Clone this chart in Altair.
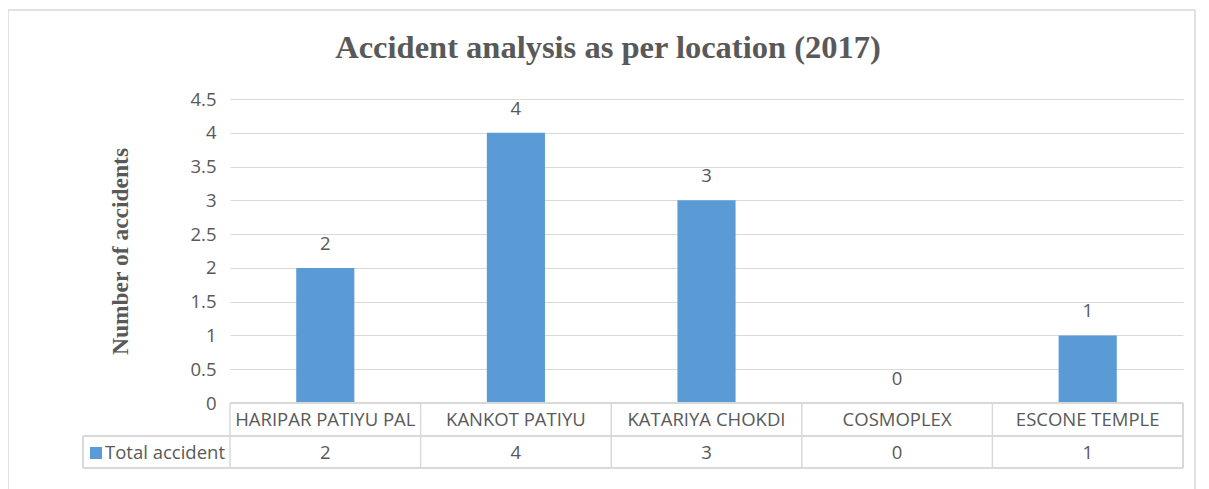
import altair as alt
import pandas as pd

locations = ["HARIPAR PATIYU PAL", "KANKOT PATIYU", "KATARIYA CHOKDI", "COSMOPLEX", "ESCONE TEMPLE"]
accidents = [2, 4, 3, 0, 1]
y_ticks = [0, 0.5, 1, 1.5, 2, 2.5, 3, 3.5, 4, 4.5]
series_name = "Total accident"
chart_title = "Accident analysis as per location (2017)"

df = pd.DataFrame({"loc": locations, "value": accidents})

W, H = 953, 304
GREY = "#595959"
LINE = "#D9D9D9"
BLUE = "#5B9BD5"
SANS = "Open Sans"
SERIF = "Liberation Serif"
FS = 18.5

x_scale = alt.Scale(paddingInner=0, paddingOuter=0)
x_axis = alt.Axis(title=None, labelAngle=0, domain=False, ticks=False, tickSize=0,
                  labelPadding=7, labelFont=SANS, labelFontSize=FS, labelColor=GREY,
                  labelBaseline="top", labelLimit=400, grid=False)
y_scale = alt.Scale(domain=[0, 4.5], nice=False)
y_axis = alt.Axis(values=y_ticks, format="~g", title="Number of accidents",
                  domain=False, ticks=False, tickSize=0, labelPadding=14,
                  labelFont=SANS, labelFontSize=FS, labelColor=GREY,
                  labelOverlap=False, grid=True,
                  gridColor=LINE, gridWidth=1,
                  titleFont=SERIF, titleFontSize=23.5, titleFontWeight="bold",
                  titleColor=GREY, titleAngle=270, titleX=-110, titleY=H / 2,
                  titleAlign="center", titleBaseline="middle")

x_enc = alt.X("loc:N", sort=locations, scale=x_scale, axis=x_axis)
y_enc = alt.Y("value:Q", scale=y_scale, axis=y_axis)

base = alt.Chart(df)

bars = base.mark_bar(color=BLUE, width=alt.RelativeBandSize(0.305)).encode(x=x_enc, y=y_enc)

labels = base.mark_text(font=SANS, fontSize=FS, color=GREY, baseline="bottom", dy=-14).encode(
    x=x_enc, y=y_enc, text="value:Q")

values_row = base.mark_text(font=SANS, fontSize=FS, color=GREY, baseline="middle").encode(
    x=x_enc, y=alt.value(H + 50), text="value:Q")

# table borders
vlines = base.mark_rule(color=LINE, strokeWidth=1.5).encode(
    x=alt.X("loc:N", sort=locations, scale=x_scale, axis=x_axis, bandPosition=0),
    y=alt.value(H), y2=alt.value(H + 65))
right_line = base.mark_rule(color=LINE, strokeWidth=1.5).encode(
    x=alt.value(W), y=alt.value(H), y2=alt.value(H + 65))
left_line = base.mark_rule(color=LINE, strokeWidth=1.5).encode(
    x=alt.value(-147), y=alt.value(H + 33), y2=alt.value(H + 65))
top_line = base.mark_rule(color=LINE, strokeWidth=1.5).encode(
    x=alt.value(0), x2=alt.value(W), y=alt.value(H))
mid_line = base.mark_rule(color=LINE, strokeWidth=1.5).encode(
    x=alt.value(-147), x2=alt.value(W), y=alt.value(H + 33))
bot_line = base.mark_rule(color=LINE, strokeWidth=1.5).encode(
    x=alt.value(-147), x2=alt.value(W), y=alt.value(H + 65))

one = pd.DataFrame({"s": [series_name], "t": [chart_title]})
legend_sq = alt.Chart(one).mark_rect(color=BLUE).encode(
    x=alt.value(-140), x2=alt.value(-128), y=alt.value(H + 44), y2=alt.value(H + 56))
legend_txt = alt.Chart(one).mark_text(
    font=SANS, fontSize=FS, color=GREY, align="left", baseline="middle").encode(
    x=alt.value(-125), y=alt.value(H + 50), text="s:N")

title_txt = alt.Chart(one).mark_text(
    font=SERIF, fontSize=32.5, fontWeight="bold", color=GREY, align="center",
    baseline="alphabetic").encode(
    x=alt.value(378), y=alt.value(-41), text="t:N")

frame = alt.Chart(one).mark_rect(
    fill=None, stroke=LINE, strokeWidth=1.5).encode(
    x=alt.value(-222), x2=alt.value(965), y=alt.value(-89), y2=alt.value(H + 120))

chart = alt.layer(
    frame, bars, labels, values_row, vlines, right_line, left_line,
    top_line, mid_line, bot_line, legend_sq, legend_txt, title_txt
).properties(
    width=W, height=H,
    background="white",
    padding={"left": 222, "top": 91, "right": 18, "bottom": 86},
    autosize=alt.AutoSizeParams(type="none"),
).configure_view(stroke=None)

chart.save("out.html", embed_options={"renderer": "svg", "actions": False})
